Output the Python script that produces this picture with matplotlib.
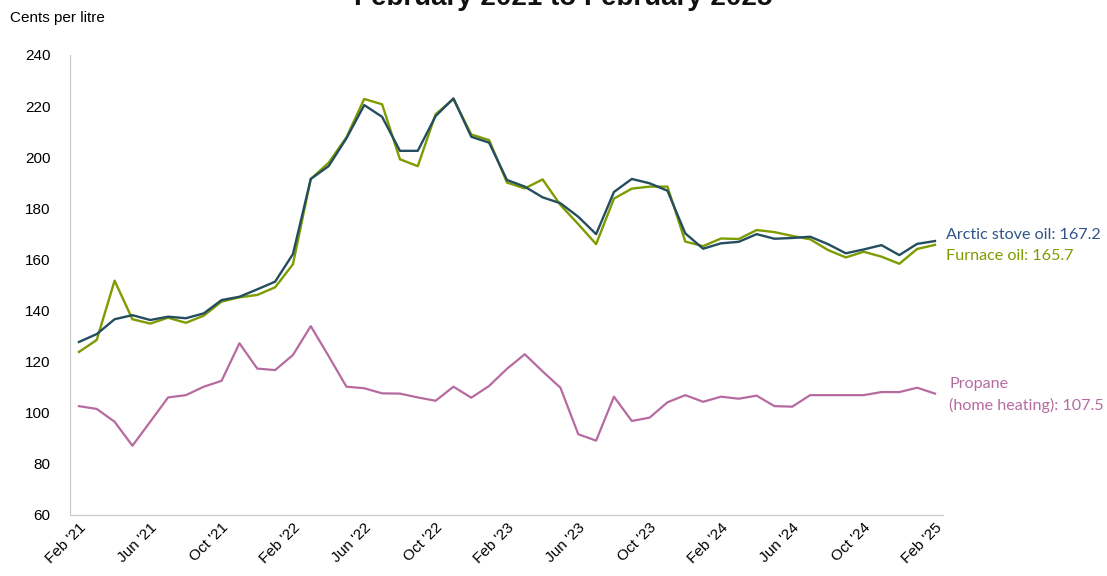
import matplotlib
matplotlib.use("Agg")
import matplotlib.pyplot as plt
import numpy as np

plt.rcParams['font.family'] = ['Liberation Sans', 'DejaVu Sans']

months = ["Feb '21", "Mar '21", "Apr '21", "May '21", "Jun '21", "Jul '21", "Aug '21", "Sep '21",
          "Oct '21", "Nov '21", "Dec '21", "Jan '22", "Feb '22", "Mar '22", "Apr '22", "May '22",
          "Jun '22", "Jul '22", "Aug '22", "Sep '22", "Oct '22", "Nov '22", "Dec '22", "Jan '23",
          "Feb '23", "Mar '23", "Apr '23", "May '23", "Jun '23", "Jul '23", "Aug '23", "Sep '23",
          "Oct '23", "Nov '23", "Dec '23", "Jan '24", "Feb '24", "Mar '24", "Apr '24", "May '24",
          "Jun '24", "Jul '24", "Aug '24", "Sep '24", "Oct '24", "Nov '24", "Dec '24", "Jan '25",
          "Feb '25"]

arctic = [127.7, 130.8, 136.6, 138.2, 136.3, 137.6, 137.0, 138.9, 144.1, 145.4, 148.3, 151.3,
          162.1, 191.5, 196.5, 207.4, 220.4, 215.8, 202.5, 202.5, 216.1, 223.0, 208.0, 205.7,
          191.1, 188.5, 184.3, 182.0, 176.7, 169.9, 186.4, 191.5, 189.8, 186.9, 170.2, 164.2,
          166.3, 166.9, 169.9, 168.1, 168.4, 168.9, 166.0, 162.4, 163.9, 165.6, 161.7, 166.1,
          167.2]

furnace = [123.8, 128.5, 151.7, 136.6, 134.9, 137.2, 135.2, 138.0, 143.5, 145.2, 146.1, 149.1,
           158.1, 191.5, 197.8, 207.8, 222.8, 220.7, 199.2, 196.5, 216.8, 222.8, 208.9, 206.7,
           190.1, 187.8, 191.3, 181.3, 173.8, 166.0, 183.8, 187.7, 188.5, 188.5, 167.0, 165.2,
           168.2, 168.0, 171.5, 170.7, 169.2, 167.9, 163.7, 160.8, 163.0, 161.1, 158.3, 164.1,
           165.7]

propane = [102.6, 101.5, 96.5, 87.1, 96.5, 106.0, 106.9, 110.2, 112.5, 127.2, 117.3, 116.7,
           122.6, 133.9, 122.2, 110.2, 109.6, 107.6, 107.5, 106.0, 104.7, 110.2, 105.9, 110.5,
           117.2, 122.9, 116.2, 109.8, 91.6, 89.1, 106.3, 96.8, 98.1, 104.1, 106.9, 104.3,
           106.3, 105.5, 106.7, 102.6, 102.4, 106.9, 106.9, 106.9, 106.9, 108.1, 108.1, 109.8,
           107.5]

c_arctic = '#244e60'
c_furnace = '#7d9c00'
c_propane = '#b66ba0'
c_arctic_lbl = '#2f5588'

x = np.arange(len(months))

fig = plt.figure(figsize=(11.07, 5.76), dpi=100)
ax = fig.add_axes([70 / 1107, 1 - 515 / 576, (943 - 70) / 1107, (515 - 55) / 576])

ax.plot(x, propane, color=c_propane, lw=1.6)
ax.plot(x, furnace, color=c_furnace, lw=1.7)
ax.plot(x, arctic, color=c_arctic, lw=1.7)

ax.set_xlim(-0.5, 48.45)
ax.set_ylim(60, 240)
ax.set_yticks(np.arange(60, 241, 20))
ax.set_xticks(x[::4])
ax.set_xticklabels(months[::4], rotation=45, ha='right', va='top', rotation_mode='anchor', fontsize=11)
ax.tick_params(axis='both', length=0, labelsize=11, colors='black')
ax.tick_params(axis='y', pad=14)
ax.tick_params(axis='x', pad=4)

for s in ['top', 'right']:
    ax.spines[s].set_visible(False)
ax.spines['left'].set_color('#c8c8c8')
ax.spines['bottom'].set_color('#c8c8c8')

fig.text(10 / 1107, 1 - 18 / 576, "Cents per litre", fontsize=11, va='center', ha='left')
fig.text(563 / 1107, 1 - 5 / 576, "February 2021 to February 2025", fontsize=20, fontweight='bold',
         ha='center', va='baseline', color='#111111')

lblfont = ['Lato', 'DejaVu Sans']
ax.text(48.6, 169.5, "Arctic stove oil: " + str(arctic[-1]), color=c_arctic_lbl, fontsize=11.6,
        va='center', ha='left', family=lblfont, clip_on=False)
ax.text(48.6, 161.3, "Furnace oil: " + str(furnace[-1]), color=c_furnace, fontsize=11.6,
        va='center', ha='left', family=lblfont, clip_on=False)
ax.text(48.8, 107.0, "Propane\n(home heating): " + str(propane[-1]), color=c_propane, fontsize=11.6,
        va='center', ha='left', family=lblfont, linespacing=1.6, clip_on=False)

fig.savefig("out.png", dpi=100)
